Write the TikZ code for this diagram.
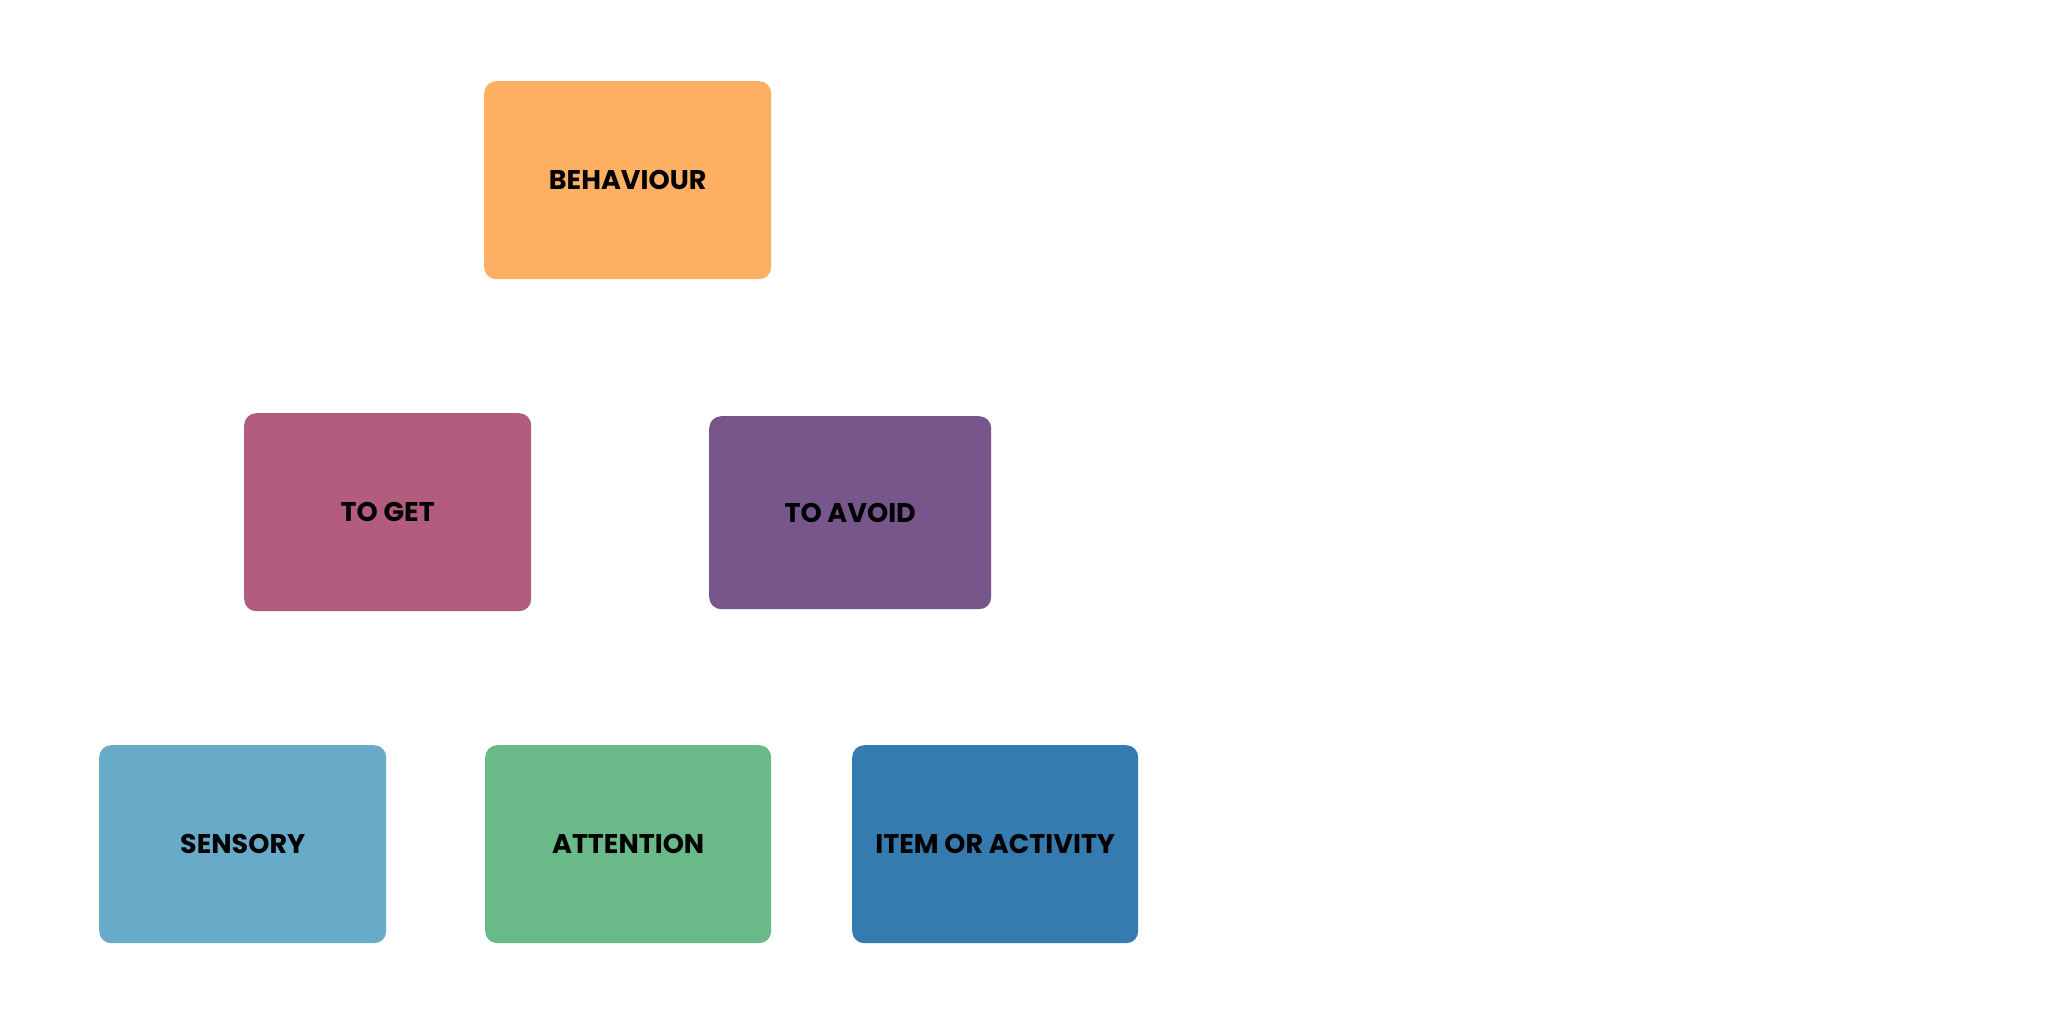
\documentclass[tikz,border=0pt]{standalone}
\usepackage{fontspec}
\setmainfont{Poppins}[BoldFont={* Bold}]
\definecolor{cOrange}{HTML}{FDB062}
\definecolor{cPink}{HTML}{B35C7E}
\definecolor{cPurple}{HTML}{77568C}
\definecolor{cLightBlue}{HTML}{68ABC8}
\definecolor{cGreen}{HTML}{6AB989}
\definecolor{cBlue}{HTML}{357BB0}
\tikzset{
  card/.style={rectangle, rounded corners=12pt, inner sep=0pt, anchor=north west,
    font=\fontsize{27}{32}\selectfont\bfseries, text=black},
}
\begin{document}
\begin{tikzpicture}[x=1pt,y=-1pt]
\useasboundingbox[fill=white] (0,0) rectangle (2048,1024);
\node[card, fill=cOrange, minimum width=287pt, minimum height=198pt] (beh) at (484,81) {BEHAVIOUR};
\node[card, fill=cPink, minimum width=287pt, minimum height=198pt] (get) at (244,413) {TO GET};
\node[card, fill=cPurple, minimum width=282pt, minimum height=193pt] (avoid) at (709,416) {TO AVOID};
\node[card, fill=cLightBlue, minimum width=287pt, minimum height=198pt] (sens) at (99,745) {SENSORY};
\node[card, fill=cGreen, minimum width=286pt, minimum height=198pt] (att) at (485,745) {ATTENTION};
\node[card, fill=cBlue, minimum width=286pt, minimum height=198pt] (item) at (852,745) {ITEM OR ACTIVITY};
\end{tikzpicture}
\end{document}
